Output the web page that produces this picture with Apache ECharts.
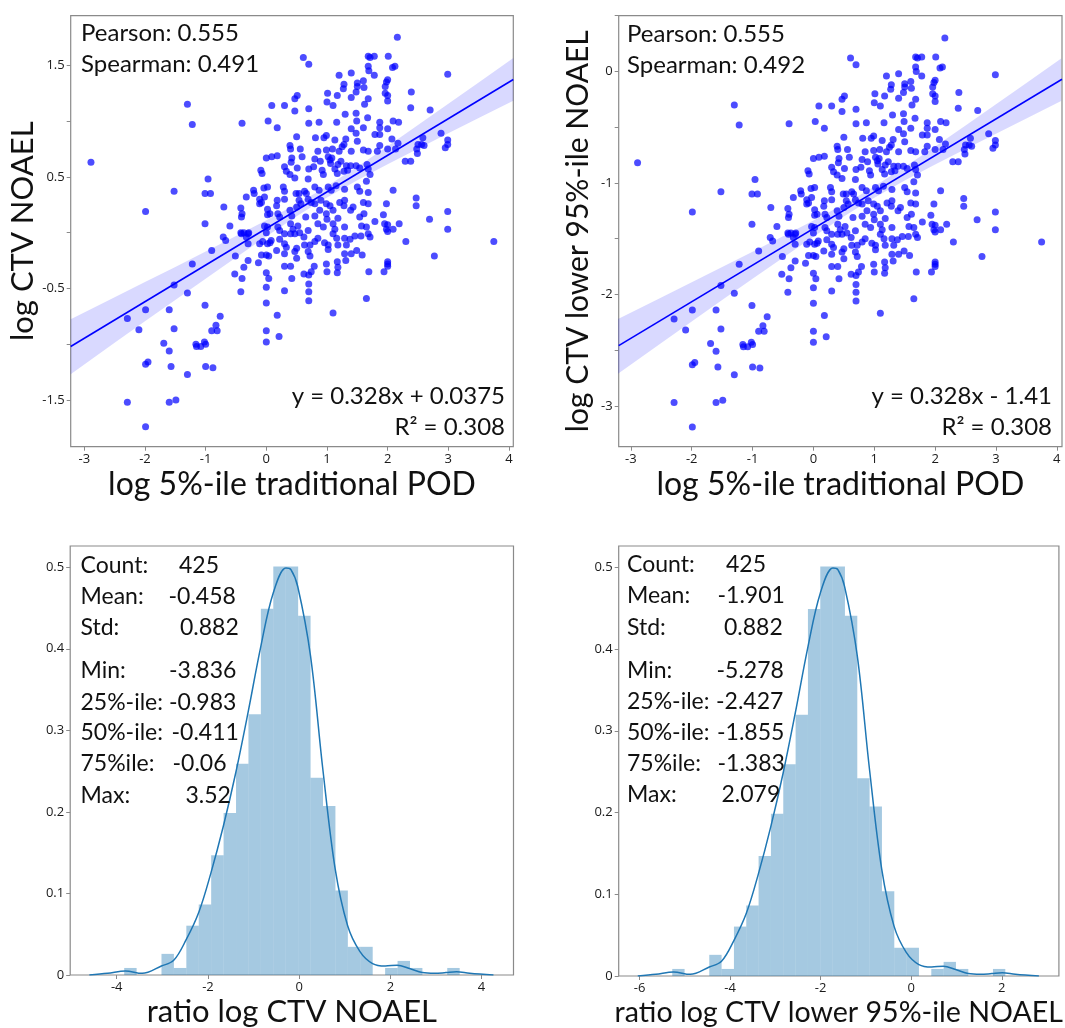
<!DOCTYPE html>
<html>
<head>
<meta charset="utf-8">
<script src="https://cdn.jsdelivr.net/npm/echarts@6/dist/echarts.min.js"></script>
<style>
html,body{margin:0;padding:0;background:#fff;}
#chart{width:1065px;height:1028px;}
</style>
</head>
<body>
<div id="chart"></div>
<script>
// ---- scatter: x = log 5%-ile traditional POD, y = log CTV NOAEL
const noaelPoints = [
[-1.30,1.15],[-1.22,0.97],[-2.89,0.63],[-0.96,0.48],[-1.52,0.37],[-1.01,0.35],[-0.92,0.35],[-1.99,0.19],[-1.01,0.08],
[0.61,1.57],[0.70,1.51],[1.20,1.41],[1.40,1.43],[1.28,1.33],[1.27,1.29],[1.50,1.34],[1.50,1.31],[1.60,1.36],[1.48,1.26],
[1.61,1.30],[1.01,1.25],[1.17,1.23],[0.51,1.23],[0.47,1.20],[1.00,1.17],[1.10,1.14],[1.40,1.21],[1.62,1.15],[0.09,1.14],
[0.30,1.14],[0.47,1.09],[0.70,1.11],[1.30,1.06],[1.48,1.07],[1.49,1.00],[-0.40,0.98],[0.03,1.00],[0.18,0.94],[0.70,0.98],
[0.87,0.99],[1.16,0.99],[1.40,0.93],[1.60,0.94],[1.67,1.03],[0.99,0.87],[0.95,0.85],[0.50,0.86],[1.13,0.83],[1.31,0.84],
[1.48,0.89],[1.50,0.82],[0.39,0.78],[0.40,0.75],[0.56,0.75],[0.81,0.85],[0.85,0.73],[0.99,0.74],[1.09,0.75],[1.20,0.73],
[1.25,0.77],[1.28,0.79],[1.40,0.73],[1.60,0.74],[0.00,0.67],[0.09,0.68],[0.18,0.69],[0.42,0.67],[0.41,0.63],[0.59,0.68],
[0.80,0.66],[0.89,0.64],[1.02,0.68],[1.05,0.65],[1.08,0.67],[1.06,0.62],[1.18,0.61],[1.23,0.64],[1.32,0.60],[1.39,0.60],
[1.48,0.60],[-0.09,0.56],[-0.07,0.53],[0.30,0.59],[0.33,0.55],[0.51,0.58],[0.70,0.57],[0.78,0.59],[0.92,0.56],[0.94,0.52],
[1.13,0.57],[1.17,0.53],[1.28,0.55],[1.34,0.56],[1.54,0.58],[1.66,0.61],[0.39,0.52],[0.47,0.49],[0.69,0.48],[0.02,0.41],
[-0.04,0.40],[-0.21,0.38],[0.28,0.41],[0.30,0.37],[0.49,0.35],[0.54,0.35],[0.63,0.37],[0.66,0.35],[0.80,0.41],[0.87,0.38],
[1.02,0.41],[1.07,0.38],[1.15,0.42],[1.29,0.39],[1.50,0.41],[1.54,0.37],[1.65,0.46],[-0.33,0.32],[-0.20,0.35],[-0.11,0.30],
[-0.08,0.27],[-0.11,0.26],[-0.03,0.32],[0.18,0.29],[0.17,0.24],[0.30,0.30],[0.54,0.29],[0.57,0.26],[0.69,0.30],[0.74,0.27],
[0.80,0.26],[0.90,0.29],[0.99,0.26],[1.05,0.24],[1.21,0.27],[1.29,0.29],[1.28,0.24],[1.43,0.23],[1.60,0.27],[-0.70,0.23],
[-0.42,0.22],[-0.40,0.17],[-0.41,0.14],[0.02,0.21],[0.06,0.17],[0.02,0.16],[0.19,0.17],[0.22,0.14],[0.39,0.20],[0.42,0.15],
[0.50,0.23],[0.65,0.14],[0.80,0.15],[0.88,0.20],[0.99,0.17],[1.00,0.12],[1.10,0.20],[1.18,0.13],[1.39,0.20],[1.54,0.14],
[1.61,0.17],[-0.60,0.06],[-0.42,0.00],[-0.37,0.00],[-0.29,0.00],[-0.03,0.06],[0.02,0.05],[0.00,0.00],[0.19,0.05],[0.22,0.02],
[0.40,0.08],[0.44,0.03],[0.52,0.06],[0.69,0.02],[0.85,0.08],[0.94,0.05],[1.10,0.08],[1.13,0.03],[1.29,0.05],[1.57,0.06],
[1.65,0.05],[-0.41,-0.01],[-0.30,-0.01],[-0.33,-0.04],[-0.71,-0.04],[-0.67,-0.07],[-0.30,-0.10],[-0.11,-0.10],[-0.06,-0.08],
[0.02,-0.10],[0.06,-0.09],[0.08,-0.07],[0.22,-0.06],[0.30,-0.10],[0.33,-0.13],[0.30,-0.01],[0.40,-0.01],[0.47,-0.01],[0.55,0.00],
[0.62,-0.04],[0.50,-0.14],[0.47,-0.17],[0.63,-0.11],[0.72,-0.11],[0.80,-0.08],[0.85,-0.05],[0.69,-0.17],[0.72,-0.21],[0.96,-0.09],
[1.02,-0.11],[1.02,-0.15],[1.10,-0.01],[1.16,-0.05],[1.18,-0.11],[1.29,-0.05],[1.32,-0.11],[1.38,-0.06],[1.46,-0.03],[1.56,-0.03],
[1.49,-0.16],[1.40,-0.19],[1.58,-0.20],[1.29,-0.19],[-0.08,-0.20],[0.00,-0.20],[0.04,-0.21],[0.17,-0.16],[0.30,-0.19],[-0.51,-0.21],
[-0.37,-0.31],[-0.30,-0.25],[-0.13,-0.27],[-0.52,-0.37],[-0.40,-0.41],[-0.42,-0.53],[0.00,-0.36],[0.04,-0.41],[0.00,-0.49],[0.00,-0.63],
[0.00,-0.88],[0.00,-0.98],[0.18,-0.74],[0.21,-0.93],[0.30,-0.30],[0.40,-0.30],[0.42,-0.41],[0.30,-0.52],[0.50,-0.23],[0.62,-0.37],
[0.70,-0.38],[0.70,-0.46],[0.70,-0.53],[0.70,-0.61],[0.79,-0.30],[0.74,-0.35],[0.99,-0.28],[1.00,-0.35],[1.10,-0.72],[1.17,-0.26],
[1.18,-0.31],[1.17,-0.36],[1.31,-0.25],[1.69,-0.35],[1.65,-0.59],[-0.76,-0.75],[2.16,1.75],[1.68,1.58],[1.71,1.57],[1.78,1.58],
[2.01,1.58],[2.12,1.49],[2.08,1.48],[1.68,1.49],[1.69,1.45],[1.78,1.41],[2.00,1.37],[1.98,1.35],[1.96,1.31],[1.96,1.25],
[2.00,1.23],[2.00,1.18],[1.68,1.20],[2.99,1.42],[2.39,1.26],[2.38,1.12],[2.70,1.10],[1.87,0.99],[1.87,0.94],[2.09,1.00],
[2.18,0.99],[2.00,0.93],[1.79,0.88],[1.87,0.88],[2.07,0.84],[1.87,0.78],[1.83,0.73],[2.00,0.75],[2.17,0.80],[2.13,0.75],
[1.68,0.73],[2.88,0.89],[2.58,0.85],[2.50,0.79],[2.56,0.79],[2.60,0.78],[2.48,0.75],[2.49,0.71],[2.99,0.83],[2.99,0.79],
[2.95,0.76],[2.29,0.64],[2.38,0.64],[1.68,0.57],[1.71,0.52],[1.68,0.36],[2.09,0.38],[1.68,0.26],[1.98,0.26],[2.47,0.31],
[2.47,0.24],[2.99,0.19],[1.93,0.16],[1.79,0.10],[1.95,0.08],[2.00,0.07],[1.98,0.03],[2.00,0.01],[2.09,0.03],[2.19,0.08],
[2.69,0.12],[2.99,0.03],[1.68,-0.01],[1.71,-0.04],[2.30,-0.08],[3.75,-0.08],[2.77,-0.21],[1.94,-0.35],[2.00,-0.26],[2.00,-0.28],
[2.00,-0.30],[-0.90,-0.16],[-1.22,-0.28],[-1.52,-0.47],[-1.30,-0.54],[-1.01,-0.65],[-1.99,-0.69],[-1.60,-0.69],[-2.29,-0.77],
[-0.83,-0.83],[-0.90,-0.88],[-0.81,-0.88],[-2.10,-0.87],[-1.52,-0.86],[-1.69,-0.99],[-1.60,-1.06],[-1.16,-1.00],[-1.15,-1.02],
[-1.08,-1.02],[-1.02,-0.98],[-1.00,-1.00],[-1.99,-1.18],[-1.95,-1.16],[-1.57,-1.20],[-1.00,-1.20],[-0.88,-1.21],[-1.30,-1.27],
[-2.29,-1.52],[-1.60,-1.52],[-1.49,-1.50],[-1.99,-1.74]
];
// ---- scatter: x = log 5%-ile traditional POD, y = log CTV lower 95%-ile NOAEL
const lowerPoints = [
[-1.30,-0.30],[-1.22,-0.48],[-2.89,-0.82],[-0.96,-0.97],[-1.52,-1.08],[-1.01,-1.10],[-0.92,-1.10],[-1.99,-1.26],[-1.01,-1.37],
[0.61,0.12],[0.70,0.06],[1.20,-0.04],[1.40,-0.02],[1.28,-0.12],[1.27,-0.16],[1.50,-0.11],[1.50,-0.14],[1.60,-0.09],[1.48,-0.19],
[1.61,-0.15],[1.01,-0.20],[1.17,-0.22],[0.51,-0.22],[0.47,-0.25],[1.00,-0.28],[1.10,-0.31],[1.40,-0.24],[1.62,-0.30],[0.09,-0.31],
[0.30,-0.31],[0.47,-0.36],[0.70,-0.34],[1.30,-0.39],[1.48,-0.38],[1.49,-0.45],[-0.40,-0.47],[0.03,-0.45],[0.18,-0.51],[0.70,-0.47],
[0.87,-0.46],[1.16,-0.46],[1.40,-0.52],[1.60,-0.51],[1.67,-0.42],[0.99,-0.58],[0.95,-0.60],[0.50,-0.59],[1.13,-0.62],[1.31,-0.61],
[1.48,-0.56],[1.50,-0.63],[0.39,-0.67],[0.40,-0.70],[0.56,-0.70],[0.81,-0.60],[0.85,-0.72],[0.99,-0.71],[1.09,-0.70],[1.20,-0.72],
[1.25,-0.68],[1.28,-0.66],[1.40,-0.72],[1.60,-0.71],[0.00,-0.78],[0.09,-0.77],[0.18,-0.76],[0.42,-0.78],[0.41,-0.82],[0.59,-0.77],
[0.80,-0.79],[0.89,-0.81],[1.02,-0.77],[1.05,-0.80],[1.08,-0.78],[1.06,-0.83],[1.18,-0.84],[1.23,-0.81],[1.32,-0.85],[1.39,-0.85],
[1.48,-0.85],[-0.09,-0.89],[-0.07,-0.92],[0.30,-0.86],[0.33,-0.90],[0.51,-0.87],[0.70,-0.88],[0.78,-0.86],[0.92,-0.89],[0.94,-0.93],
[1.13,-0.88],[1.17,-0.92],[1.28,-0.90],[1.34,-0.89],[1.54,-0.87],[1.66,-0.84],[0.39,-0.93],[0.47,-0.96],[0.69,-0.97],[0.02,-1.04],
[-0.04,-1.05],[-0.21,-1.07],[0.28,-1.04],[0.30,-1.08],[0.49,-1.10],[0.54,-1.10],[0.63,-1.08],[0.66,-1.10],[0.80,-1.04],[0.87,-1.07],
[1.02,-1.04],[1.07,-1.07],[1.15,-1.03],[1.29,-1.06],[1.50,-1.04],[1.54,-1.08],[1.65,-0.99],[-0.33,-1.13],[-0.20,-1.10],[-0.11,-1.15],
[-0.08,-1.18],[-0.11,-1.19],[-0.03,-1.13],[0.18,-1.16],[0.17,-1.21],[0.30,-1.15],[0.54,-1.16],[0.57,-1.19],[0.69,-1.15],[0.74,-1.18],
[0.80,-1.19],[0.90,-1.16],[0.99,-1.19],[1.05,-1.21],[1.21,-1.18],[1.29,-1.16],[1.28,-1.21],[1.43,-1.22],[1.60,-1.18],[-0.70,-1.22],
[-0.42,-1.23],[-0.40,-1.28],[-0.41,-1.31],[0.02,-1.24],[0.06,-1.28],[0.02,-1.29],[0.19,-1.28],[0.22,-1.31],[0.39,-1.25],[0.42,-1.30],
[0.50,-1.22],[0.65,-1.31],[0.80,-1.30],[0.88,-1.25],[0.99,-1.28],[1.00,-1.33],[1.10,-1.25],[1.18,-1.32],[1.39,-1.25],[1.54,-1.31],
[1.61,-1.28],[-0.60,-1.39],[-0.42,-1.45],[-0.37,-1.45],[-0.29,-1.45],[-0.03,-1.39],[0.02,-1.40],[0.00,-1.45],[0.19,-1.40],[0.22,-1.43],
[0.40,-1.37],[0.44,-1.42],[0.52,-1.39],[0.69,-1.43],[0.85,-1.37],[0.94,-1.40],[1.10,-1.37],[1.13,-1.42],[1.29,-1.40],[1.57,-1.39],
[1.65,-1.40],[-0.41,-1.46],[-0.30,-1.46],[-0.33,-1.49],[-0.71,-1.49],[-0.67,-1.52],[-0.30,-1.55],[-0.11,-1.55],[-0.06,-1.53],
[0.02,-1.55],[0.06,-1.54],[0.08,-1.52],[0.22,-1.51],[0.30,-1.55],[0.33,-1.58],[0.30,-1.46],[0.40,-1.46],[0.47,-1.46],[0.55,-1.45],
[0.62,-1.49],[0.50,-1.59],[0.47,-1.62],[0.63,-1.56],[0.72,-1.56],[0.80,-1.53],[0.85,-1.50],[0.69,-1.62],[0.72,-1.66],[0.96,-1.54],
[1.02,-1.56],[1.02,-1.60],[1.10,-1.46],[1.16,-1.50],[1.18,-1.56],[1.29,-1.50],[1.32,-1.56],[1.38,-1.51],[1.46,-1.48],[1.56,-1.48],
[1.49,-1.61],[1.40,-1.64],[1.58,-1.65],[1.29,-1.64],[-0.08,-1.65],[0.00,-1.65],[0.04,-1.66],[0.17,-1.61],[0.30,-1.64],[-0.51,-1.66],
[-0.37,-1.76],[-0.30,-1.70],[-0.13,-1.72],[-0.52,-1.82],[-0.40,-1.86],[-0.42,-1.98],[0.00,-1.81],[0.04,-1.86],[0.00,-1.94],[0.00,-2.08],
[0.00,-2.33],[0.00,-2.43],[0.18,-2.19],[0.21,-2.38],[0.30,-1.75],[0.40,-1.75],[0.42,-1.86],[0.30,-1.97],[0.50,-1.68],[0.62,-1.82],
[0.70,-1.83],[0.70,-1.91],[0.70,-1.98],[0.70,-2.06],[0.79,-1.75],[0.74,-1.80],[0.99,-1.73],[1.00,-1.80],[1.10,-2.17],[1.17,-1.71],
[1.18,-1.76],[1.17,-1.81],[1.31,-1.70],[1.69,-1.80],[1.65,-2.04],[-0.76,-2.20],[2.16,0.30],[1.68,0.13],[1.71,0.12],[1.78,0.13],
[2.01,0.13],[2.12,0.04],[2.08,0.03],[1.68,0.04],[1.69,0.00],[1.78,-0.04],[2.00,-0.08],[1.98,-0.10],[1.96,-0.14],[1.96,-0.20],
[2.00,-0.22],[2.00,-0.27],[1.68,-0.25],[2.99,-0.03],[2.39,-0.19],[2.38,-0.33],[2.70,-0.35],[1.87,-0.46],[1.87,-0.51],[2.09,-0.45],
[2.18,-0.46],[2.00,-0.52],[1.79,-0.57],[1.87,-0.57],[2.07,-0.61],[1.87,-0.67],[1.83,-0.72],[2.00,-0.70],[2.17,-0.65],[2.13,-0.70],
[1.68,-0.72],[2.88,-0.56],[2.58,-0.60],[2.50,-0.66],[2.56,-0.66],[2.60,-0.67],[2.48,-0.70],[2.49,-0.74],[2.99,-0.62],[2.99,-0.66],
[2.95,-0.69],[2.29,-0.81],[2.38,-0.81],[1.68,-0.88],[1.71,-0.93],[1.68,-1.09],[2.09,-1.07],[1.68,-1.19],[1.98,-1.19],[2.47,-1.14],
[2.47,-1.21],[2.99,-1.26],[1.93,-1.29],[1.79,-1.35],[1.95,-1.37],[2.00,-1.38],[1.98,-1.42],[2.00,-1.44],[2.09,-1.42],[2.19,-1.37],
[2.69,-1.33],[2.99,-1.42],[1.68,-1.46],[1.71,-1.49],[2.30,-1.53],[3.75,-1.53],[2.77,-1.66],[1.94,-1.80],[2.00,-1.71],[2.00,-1.73],
[2.00,-1.75],[-0.90,-1.61],[-1.22,-1.73],[-1.52,-1.92],[-1.30,-1.99],[-1.01,-2.10],[-1.99,-2.14],[-1.60,-2.14],[-2.29,-2.22],
[-0.83,-2.28],[-0.90,-2.33],[-0.81,-2.33],[-2.10,-2.32],[-1.52,-2.31],[-1.69,-2.44],[-1.60,-2.51],[-1.16,-2.45],[-1.15,-2.47],
[-1.08,-2.47],[-1.02,-2.43],[-1.00,-2.45],[-1.99,-2.63],[-1.95,-2.61],[-1.57,-2.65],[-1.00,-2.65],[-0.88,-2.66],[-1.30,-2.72],
[-2.29,-2.97],[-1.60,-2.97],[-1.49,-2.95],[-1.99,-3.19]
];

// regression fits (as printed on the chart)
const fitNoael = {slope: 0.328, intercept: 0.0375};
const fitLower = {slope: 0.328, intercept: -1.41};
// confidence band
const ciX          = [-3.224,-2.5,-2,-1.5,-1,-0.5,0,0.5,0.9,1.5,2,2.5,3,3.5,4.071];
const ciNoaelLow   = [-1.268,-0.987,-0.795,-0.603,-0.412,-0.223,-0.034,0.147,0.283,0.469,0.613,0.752,0.890,1.027,1.182];
const ciNoaelHigh  = [-0.776,-0.579,-0.443,-0.307,-0.170,-0.031,0.110,0.257,0.383,0.591,0.775,0.964,1.154,1.345,1.564];
const ciLowerLow   = [-2.716,-2.435,-2.243,-2.051,-1.860,-1.671,-1.482,-1.301,-1.165,-0.979,-0.835,-0.696,-0.558,-0.421,-0.266];
const ciLowerHigh  = [-2.224,-2.027,-1.891,-1.755,-1.618,-1.479,-1.338,-1.191,-1.065,-0.857,-0.673,-0.484,-0.294,-0.103,0.116];

// histograms (27 bins) of the ratios
const ratioTotal = 425;
const ratioEdges = [-3.836,-3.5636,-3.2911,-3.0187,-2.7462,-2.4738,-2.2014,-1.9289,-1.6565,-1.384,-1.1116,-0.8392,-0.5667,-0.2943,-0.0218,0.2506,0.523,0.7955,1.0679,1.3404,1.6128,1.8852,2.1577,2.4301,2.7026,2.975,3.2474,3.5199];
const ratioCounts = [1,0,0,3,1,7,10,17,23,30,37,52,58,58,51,28,24,12,4,4,0,1,2,1,0,0,1];
const ratioLowerEdges = [-5.278,-5.0056,-4.7331,-4.4607,-4.1882,-3.9158,-3.6434,-3.3709,-3.0985,-2.826,-2.5536,-2.2812,-2.0087,-1.7363,-1.4638,-1.1914,-0.919,-0.6465,-0.3741,-0.1016,0.1708,0.4432,0.7157,0.9881,1.2606,1.533,1.8054,2.0779];
const ratioLowerCounts = [1,0,0,3,1,7,10,17,23,30,37,52,58,58,51,28,24,12,4,4,0,1,2,1,0,0,1];
// density curves
const kdeX = [-4.60,-4.2,-3.81,-3.44,-3.02,-2.75,-2.48,-2.20,-1.94,-1.66,-1.39,-1.12,-0.84,-0.57,-0.29,-0.18,-0.03,0.25,0.52,0.79,1.06,1.33,1.61,1.89,2.15,2.42,2.70,2.97,3.22,3.45,3.74,4.26];
const kdeY = [0.000,0.002,0.005,0.002,0.011,0.018,0.043,0.077,0.124,0.183,0.248,0.322,0.403,0.468,0.499,0.497,0.476,0.391,0.252,0.130,0.061,0.029,0.014,0.011,0.012,0.008,0.003,0.002,0.003,0.004,0.002,0.000];
const kdeLowerX = [-6.04,-5.64,-5.25,-4.88,-4.46,-4.19,-3.92,-3.64,-3.38,-3.10,-2.83,-2.56,-2.28,-2.01,-1.73,-1.62,-1.47,-1.19,-0.92,-0.65,-0.38,-0.11,0.17,0.45,0.71,0.98,1.26,1.53,1.78,2.01,2.30,2.82];
const kdeLowerY = [0.000,0.002,0.005,0.002,0.011,0.018,0.043,0.077,0.124,0.183,0.248,0.322,0.403,0.468,0.499,0.497,0.476,0.391,0.252,0.130,0.061,0.029,0.014,0.011,0.012,0.008,0.003,0.002,0.003,0.004,0.002,0.000];

// tick values
const podTicks = [-3,-2,-1,0,1,2,3,4];
const noaelTicks = [-1.5,-1,-0.5,0,0.5,1,1.5];
const noaelLabels = [-1.5,-0.5,0.5,1.5];
const lowerTicks = [-3,-2.5,-2,-1.5,-1,-0.5,0,0.5];
const lowerLabels = [-3,-2,-1,0];
const densTicks = [0,0.1,0.2,0.3,0.4,0.5];
const ratioTicks = [-4,-2,0,2,4];
const ratioLowerTicks = [-6,-4,-2,0,2];

// stats text
const statNames = ['Count:','Mean:','Std:','Min:','25%-ile:','50%-ile:','75%ile:','Max:'];
const statNoael = ['425','-0.458','0.882','-3.836','-0.983','-0.411','-0.06','3.52'];
const statLower = ['425','-1.901','0.882','-5.278','-2.427','-1.855','-1.383','2.079'];

// ----------------------------------------------------------------
const chart = echarts.init(document.getElementById('chart'), null, {renderer: 'canvas'});
const TXT = '#111111';
const SPINE = '#8a8a8a';
const NAMEFONT = 'Lato';

function zip(a, b) { return a.map((v, i) => [v, b[i]]); }
function histData(edges, counts, total) {
  const out = [];
  for (let i = 0; i < counts.length; i++) {
    const w = edges[i + 1] - edges[i];
    out.push([edges[i], edges[i + 1], counts[i] / (total * w)]);
  }
  return out;
}
function fitLine(fit, xs) { return xs.map(x => [x, fit.slope * x + fit.intercept]); }

function axisCommon(gridIndex, min, max, ticks, labels, name, nameGap, nameSize) {
  return {
    type: 'value', gridIndex, min, max,
    axisLine: {show: false, onZero: false},
    splitLine: {show: false},
    axisTick: {show: true, inside: false, length: 4, customValues: ticks, lineStyle: {color: SPINE, width: 1}},
    axisLabel: {show: true, customValues: labels, margin: 6, fontSize: 13, color: '#1a1a1a', fontFamily: 'Open Sans',
      formatter: v => String(v)},
    name: name, nameLocation: 'middle', nameGap: nameGap,
    nameTextStyle: {fontSize: nameSize || 31, fontFamily: NAMEFONT, color: TXT}
  };
}

const gridStyle = {show: true, borderColor: SPINE, borderWidth: 1.2, backgroundColor: 'transparent', containLabel: false};

function bandSeries(xi, yi, xs, lo, hi) {
  return {
    type: 'custom', xAxisIndex: xi, yAxisIndex: yi, silent: true, z: 3, clip: true,
    data: [[xs[0], lo[0]]],
    encode: {x: 0, y: 1},
    renderItem: function (params, api) {
      const pts = [];
      for (let i = 0; i < xs.length; i++) pts.push(api.coord([xs[i], hi[i]]));
      for (let i = xs.length - 1; i >= 0; i--) pts.push(api.coord([xs[i], lo[i]]));
      return {type: 'polygon', shape: {points: pts}, style: {fill: 'rgba(0,0,255,0.15)'}};
    }
  };
}
function histSeries(xi, yi, data) {
  return {
    type: 'custom', xAxisIndex: xi, yAxisIndex: yi, silent: true, z: 2,
    data: data, encode: {x: [0, 1], y: 2},
    renderItem: function (params, api) {
      const p0 = api.coord([api.value(0), api.value(2)]);
      const p1 = api.coord([api.value(1), 0]);
      return {type: 'rect', shape: {x: p0[0], y: p0[1], width: p1[0] - p0[0], height: p1[1] - p0[1]},
        style: {fill: 'rgba(31,119,180,0.4)'}};
    }
  };
}

function textEl(x, y, text, size, align) {
  return {type: 'text', x: x, y: y, silent: true, z: 100,
    style: {text: text, fontSize: size, fontFamily: NAMEFONT, fill: TXT,
      align: align || 'left', verticalAlign: 'middle', textAlign: align || 'left', textVerticalAlign: 'middle'}};
}

const graphics = [];
graphics.push(textEl(81, 33, 'Pearson: 0.555', 24));
graphics.push(textEl(81, 64, 'Spearman: 0.491', 24));
graphics.push(textEl(505, 396, 'y = 0.328x + 0.0375', 24, 'right'));
graphics.push(textEl(505, 427, 'R\u00B2 = 0.308', 24, 'right'));
graphics.push(textEl(627, 34, 'Pearson: 0.555', 24));
graphics.push(textEl(627, 65, 'Spearman: 0.492', 24));
graphics.push(textEl(1052, 396, 'y = 0.328x - 1.41', 24, 'right'));
graphics.push(textEl(1052, 427, 'R\u00B2 = 0.308', 24, 'right'));
const rowYLeft = [566, 597, 628, 671, 703, 733, 764, 796];
const valXLeft = [179, 168.5, 180, 169, 169, 171.5, 172.5, 185.5];
const rowYRight = [565, 596, 627.5, 670.5, 701.5, 732.5, 763.5, 795];
const valXRight = [726, 717.5, 724, 716.5, 716, 717, 717.5, 721.5];
for (let i = 0; i < statNames.length; i++) {
  graphics.push(textEl(80.5, rowYLeft[i], statNames[i], 23));
  graphics.push(textEl(valXLeft[i], rowYLeft[i], statNoael[i], 23));
  graphics.push(textEl(627, rowYRight[i], statNames[i], 23));
  graphics.push(textEl(valXRight[i], rowYRight[i], statLower[i], 23));
}

const option = {
  animation: false,
  backgroundColor: '#ffffff',
  grid: [
    Object.assign({left: 70.7, top: 15.7, width: 442.6, height: 431}, gridStyle),
    Object.assign({left: 618.7, top: 15.7, width: 443.3, height: 431}, gridStyle),
    Object.assign({left: 70.2, top: 546, width: 443.3, height: 430.7}, gridStyle),
    Object.assign({left: 618.7, top: 546, width: 443.3, height: 431}, gridStyle)
  ],
  xAxis: [
    axisCommon(0, -3.224, 4.071, podTicks, podTicks, 'log 5%-ile traditional POD', 22, 32),
    axisCommon(1, -3.2, 4.085, podTicks, podTicks, 'log 5%-ile traditional POD', 22, 32),
    axisCommon(2, -5.02, 4.70, ratioTicks, ratioTicks, 'ratio log CTV NOAEL', 21, 31),
    axisCommon(3, -6.461, 3.262, ratioLowerTicks, ratioLowerTicks, 'ratio log CTV lower 95%-ile NOAEL', 22, 28.6)
  ],
  yAxis: [
    axisCommon(0, -1.918, 1.944, noaelTicks, noaelLabels, 'log CTV NOAEL', 28, 31),
    axisCommon(1, -3.366, 0.5, lowerTicks, lowerLabels, 'log CTV lower 95%-ile NOAEL', 25, 30),
    axisCommon(2, 0, 0.526, densTicks, densTicks, '', 0),
    axisCommon(3, 0, 0.526, densTicks, densTicks, '', 0)
  ],
  series: [
    {type: 'scatter', xAxisIndex: 0, yAxisIndex: 0, data: noaelPoints, symbolSize: 7, z: 2, silent: true,
      itemStyle: {color: 'rgba(0,0,255,0.88)'}},
    bandSeries(0, 0, ciX, ciNoaelLow, ciNoaelHigh),
    {type: 'line', xAxisIndex: 0, yAxisIndex: 0, data: fitLine(fitNoael, [-3.224, 4.071]), symbol: 'none', z: 4, silent: true,
      lineStyle: {color: '#0000ff', width: 1.6}},
    {type: 'scatter', xAxisIndex: 1, yAxisIndex: 1, data: lowerPoints, symbolSize: 7, z: 2, silent: true,
      itemStyle: {color: 'rgba(0,0,255,0.88)'}},
    bandSeries(1, 1, ciX, ciLowerLow, ciLowerHigh),
    {type: 'line', xAxisIndex: 1, yAxisIndex: 1, data: fitLine(fitLower, [-3.2, 4.085]), symbol: 'none', z: 4, silent: true,
      lineStyle: {color: '#0000ff', width: 1.6}},
    histSeries(2, 2, histData(ratioEdges, ratioCounts, ratioTotal)),
    {type: 'line', xAxisIndex: 2, yAxisIndex: 2, data: zip(kdeX, kdeY), symbol: 'none', smooth: 0.35, z: 4, silent: true,
      lineStyle: {color: '#1f77b4', width: 1.5}},
    histSeries(3, 3, histData(ratioLowerEdges, ratioLowerCounts, ratioTotal)),
    {type: 'line', xAxisIndex: 3, yAxisIndex: 3, data: zip(kdeLowerX, kdeLowerY), symbol: 'none', smooth: 0.35, z: 4, silent: true,
      lineStyle: {color: '#1f77b4', width: 1.5}}
  ],
  graphic: graphics
};
chart.setOption(option);
</script>
</body>
</html>
